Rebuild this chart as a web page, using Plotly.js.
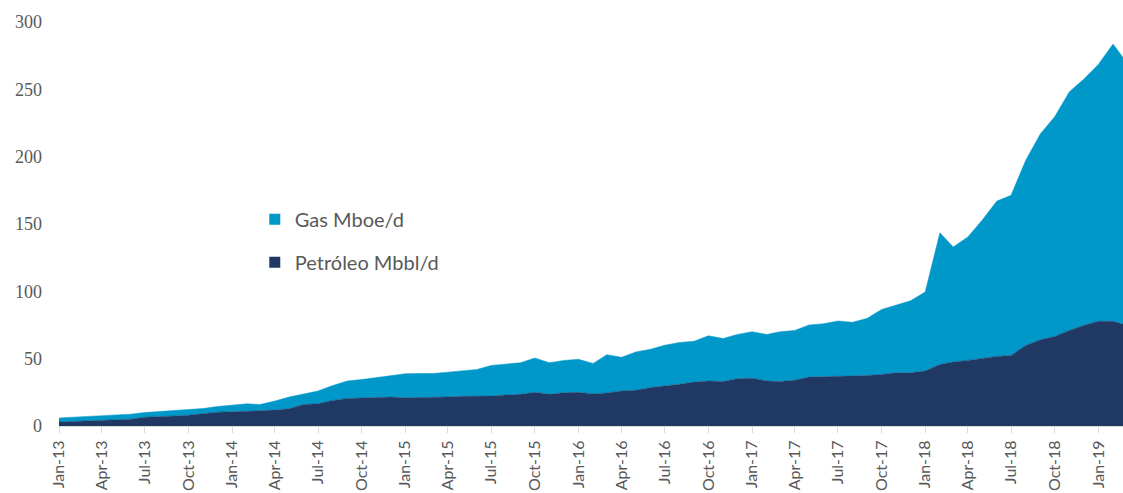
<!DOCTYPE html>
<html>
<head>
<meta charset="utf-8">
<script src="https://cdn.plot.ly/plotly-3.0.1.min.js"></script>
<style>
  html, body { margin: 0; padding: 0; background: #ffffff; }
  #chart { width: 1123px; height: 493px; }
</style>
</head>
<body>
<div id="chart"></div>
<script>
// Months Jan-13 .. Mar-19
const months = [];
for (let y = 2013; y <= 2019; y++) {
  for (let m = 1; m <= 12; m++) {
    if (y === 2019 && m > 3) break;
    months.push(y + '-' + String(m).padStart(2, '0') + '-01');
  }
}

// Petróleo Mbbl/d
const oil = [
  3, 3.3, 3.8, 4.2, 4.6, 5, 6.5, 7.2, 7.4, 8, 9, 10.3,
  10.5, 11, 11.2, 11.8, 12.8, 16, 16.5, 19, 20.5, 21, 21, 21.5,
  21, 21, 21.5, 21.5, 22, 22, 22.2, 23, 23.5, 25, 23.5, 24.7,
  25, 23.8, 24.5, 26, 26.5, 28.5, 29.5, 31, 32.6, 33.4, 33, 35,
  35.5, 33.4, 33, 34, 36.3, 36.5, 37, 37, 37.5, 38.3, 39.5, 39.5,
  40.8, 45.7, 47.5, 48.7, 50, 51.7, 52.4, 59.8, 64, 66.5, 71, 74.7,
  77.7, 77.7, 75
];

// Gas Mboe/d
const gas = [
  3, 3.2, 3.2, 3.6, 3.6, 3.8, 3.5, 3.6, 3.8, 4, 4, 4.2,
  5, 5.5, 4.8, 6.7, 8.7, 8, 9.5, 11, 13, 13.5, 15, 16.3,
  17.8, 18, 17.5, 18.5, 19, 20, 22.8, 23, 23.5, 25.5, 23.5, 24,
  24.5, 22.7, 28.5, 25, 28.5, 28.5, 30.5, 31, 30.4, 33.6, 32, 33,
  34.5, 34.6, 37, 37, 38.7, 39.5, 41, 40, 42.5, 48.2, 50.1, 53.5,
  58.7, 97.8, 85.5, 91.7, 102.8, 115.3, 118.9, 137.6, 153, 163.1, 177.2, 182.7,
  190.8, 205.9, 195.4
];

const seriesNames = ['Petróleo Mbbl/d', 'Gas Mboe/d'];
const colors = ['#203864', '#0097C9'];

const traces = [
  {
    x: months, y: oil, type: 'scatter', mode: 'lines', stackgroup: 'one',
    name: seriesNames[0], line: { width: 0.5, color: colors[0] },
    fillcolor: colors[0], showlegend: false, hoverinfo: 'skip'
  },
  {
    x: months, y: gas, type: 'scatter', mode: 'lines', stackgroup: 'one',
    name: seriesNames[1], line: { width: 0.5, color: colors[1] },
    fillcolor: colors[1], showlegend: false, hoverinfo: 'skip'
  },
  // legend entries (square swatches)
  {
    x: [null], y: [null], type: 'scatter', mode: 'markers', name: seriesNames[1],
    marker: { symbol: 'square', size: 11, color: colors[1] }, legendgroup: 'g'
  },
  {
    x: [null], y: [null], type: 'scatter', mode: 'markers', name: seriesNames[0],
    marker: { symbol: 'square', size: 11, color: colors[0] }, legendgroup: 'o'
  }
];

const layout = {
  width: 1123, height: 493,
  margin: { l: 59, r: 0, t: 22, b: 67, pad: 0 },
  paper_bgcolor: '#ffffff', plot_bgcolor: '#ffffff',
  showlegend: true,
  legend: {
    x: 0.184, y: 0.56, xanchor: 'left', yanchor: 'top',
    bgcolor: 'rgba(0,0,0,0)', traceorder: 'grouped', tracegroupgap: 14,
    font: { family: 'Lato, "Noto Sans", sans-serif', size: 20, color: '#595959' }
  },
  xaxis: {
    type: 'date',
    range: ['2013-01-01', '2019-02-22'],
    tick0: '2013-01-01', dtick: 'M3', tickformat: '%b-%y',
    tickangle: -90,
    ticks: 'outside', ticklen: 6, tickcolor: '#d9d9d9', tickwidth: 1,
    ticklabelstandoff: 1,
    showline: true, linecolor: '#d9d9d9', linewidth: 1,
    showgrid: false, zeroline: false,
    tickfont: { family: 'Lato, "Noto Sans", sans-serif', size: 16, color: '#595959' }
  },
  yaxis: {
    range: [0, 300], dtick: 50, tick0: 0,
    showgrid: false, zeroline: false, showline: false, ticks: '',
    ticklabelstandoff: 16,
    tickfont: { family: '"Liberation Serif", "DejaVu Serif", serif', size: 18, color: '#595959' }
  }
};

Plotly.newPlot('chart', traces, layout, { displayModeBar: false, staticPlot: true });
</script>
</body>
</html>
